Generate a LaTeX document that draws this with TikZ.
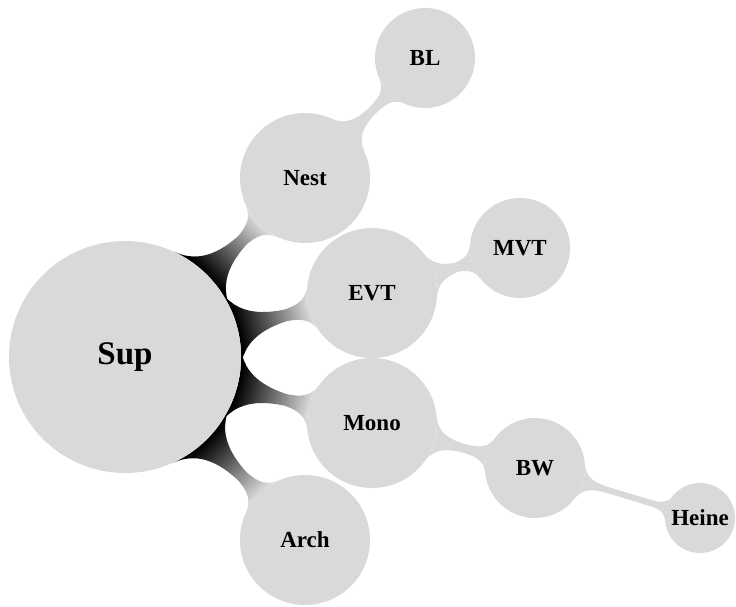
\documentclass[tikz,border=0pt]{standalone}
\usepackage{fontspec}
\setmainfont{Liberation Serif}
\usetikzlibrary{mindmap,backgrounds}
\begin{document}
\begin{tikzpicture}[x=1pt,y=-1pt,
  conc/.style={circle,fill=gray!30,inner sep=0pt,text=black,font=\bfseries\fontsize{23}{26}\selectfont},
  rootc/.style={conc,minimum size=232pt,font=\bfseries\fontsize{33}{36}\selectfont},
  lone/.style={conc,minimum size=130pt},
  ltwo/.style={conc,minimum size=100pt},
  lthree/.style={conc,minimum size=70pt},
  rootbar/.style={circle connection bar switch color=from (black) to (gray!30)},
  subbar/.style={circle connection bar switch color=from (gray!30) to (gray!30)}]
\useasboundingbox (0,0) rectangle (736,607);
\node[rootc] (sup) at (125,357) {Sup};
\node[lone] (nest) at (305,178) {Nest};
\node[lone] (evt) at (372,293) {EVT};
\node[lone] (mono) at (372,423) {Mono};
\node[lone] (arch) at (305,540) {Arch};
\node[ltwo] (bl) at (425,58) {BL};
\node[ltwo] (mvt) at (520,248) {MVT};
\node[ltwo] (bw) at (535,468) {BW};
\node[lthree] (heine) at (700,518) {Heine};
\begin{scope}[on background layer]
\path (sup) to[rootbar] (nest);
\path (sup) to[rootbar] (evt);
\path (sup) to[rootbar] (mono);
\path (sup) to[rootbar] (arch);
\path (nest) to[subbar] (bl);
\path (evt) to[subbar] (mvt);
\path (mono) to[subbar] (bw);
\path (bw) to[subbar] (heine);
\end{scope}
\end{tikzpicture}
\end{document}
